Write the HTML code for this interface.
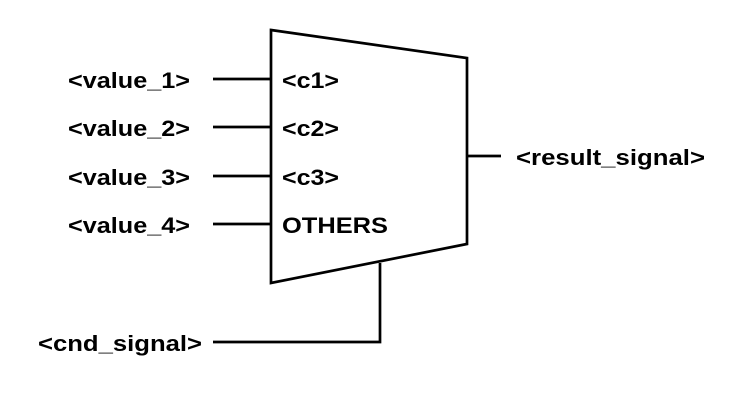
<!DOCTYPE html>
<html><head><style>html,body{margin:0;padding:0;background:#fff;width:748px;height:416px;overflow:hidden}</style></head>
<body>
<svg width="748" height="416" xmlns="http://www.w3.org/2000/svg" style="display:block">
<g fill="none" stroke="#000" stroke-width="2.7">
<polygon points="271,30 467,58 467,244 271,283"/>
<line x1="213" y1="79" x2="271" y2="79"/>
<line x1="213" y1="127" x2="271" y2="127"/>
<line x1="213" y1="176" x2="271" y2="176"/>
<line x1="213" y1="224" x2="271" y2="224"/>
<line x1="467" y1="156" x2="501" y2="156"/>
<polyline points="380,263 380,342 213,342"/>
</g>
<g font-family="Liberation Sans, Arial, sans-serif" font-weight="bold" font-size="22.5" fill="#000">
<text x="68" y="88" textLength="122" lengthAdjust="spacingAndGlyphs">&lt;value_1&gt;</text>
<text x="68" y="136" textLength="122" lengthAdjust="spacingAndGlyphs">&lt;value_2&gt;</text>
<text x="68" y="185" textLength="122" lengthAdjust="spacingAndGlyphs">&lt;value_3&gt;</text>
<text x="68" y="233" textLength="122" lengthAdjust="spacingAndGlyphs">&lt;value_4&gt;</text>
<text x="282" y="88" textLength="57" lengthAdjust="spacingAndGlyphs">&lt;c1&gt;</text>
<text x="282" y="136" textLength="57" lengthAdjust="spacingAndGlyphs">&lt;c2&gt;</text>
<text x="282" y="185" textLength="57" lengthAdjust="spacingAndGlyphs">&lt;c3&gt;</text>
<text x="282" y="233" textLength="106" lengthAdjust="spacingAndGlyphs">OTHERS</text>
<text x="516" y="165" textLength="189" lengthAdjust="spacingAndGlyphs">&lt;result_signal&gt;</text>
<text x="38" y="351" textLength="164" lengthAdjust="spacingAndGlyphs">&lt;cnd_signal&gt;</text>
</g>
</svg>
</body></html>
